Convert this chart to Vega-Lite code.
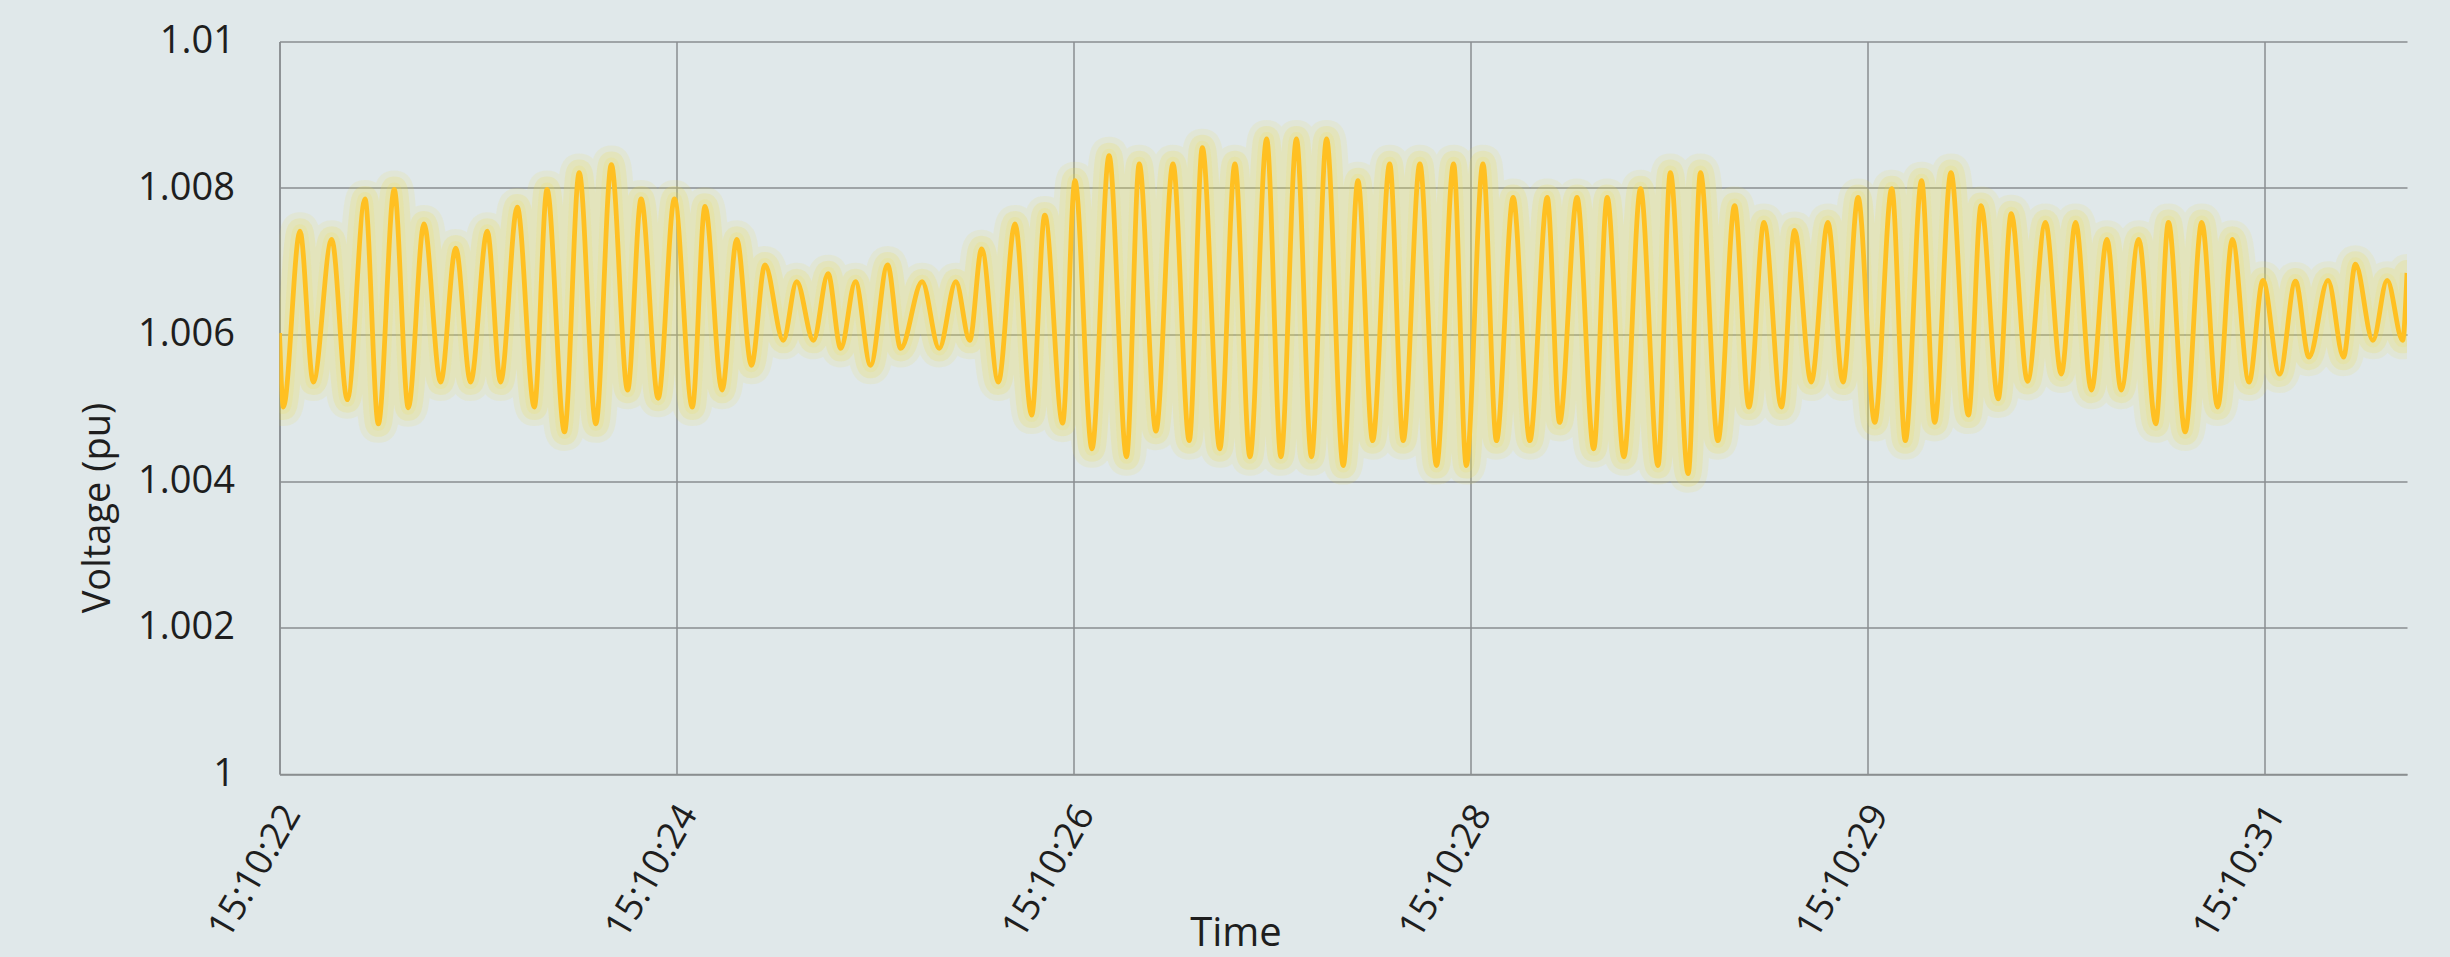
{
  "$schema": "https://vega.github.io/schema/vega-lite/v6.json",
  "autosize": {"type": "none"},
  "width": 2127.5,
  "height": 732.5,
  "padding": {"left": 279.5, "top": 41.5, "right": 43, "bottom": 183},
  "background": "#e0e8ea",
  "data": {"values": [
    {"sample": 0, "v": 1.00602}, {"sample": 0.97, "v": 1.00501}, {"sample": 5.16, "v": 1.00741}, {"sample": 8.52, "v": 1.00535},
    {"sample": 13.14, "v": 1.0073}, {"sample": 17.09, "v": 1.00511}, {"sample": 21.54, "v": 1.00785}, {"sample": 24.9, "v": 1.00478},
    {"sample": 28.9, "v": 1.00798}, {"sample": 32.45, "v": 1.005}, {"sample": 36.4, "v": 1.00751}, {"sample": 40.6, "v": 1.00535},
    {"sample": 44.4, "v": 1.00718}, {"sample": 48.15, "v": 1.00535}, {"sample": 52.35, "v": 1.00741}, {"sample": 55.7, "v": 1.00535},
    {"sample": 59.9, "v": 1.00774}, {"sample": 64.2, "v": 1.00501}, {"sample": 67.4, "v": 1.00798}, {"sample": 71.8, "v": 1.00467},
    {"sample": 75.5, "v": 1.00821}, {"sample": 79.7, "v": 1.00478}, {"sample": 83.6, "v": 1.00832}, {"sample": 87.7, "v": 1.00524},
    {"sample": 91.1, "v": 1.00785}, {"sample": 95.4, "v": 1.00513}, {"sample": 99.5, "v": 1.00785}, {"sample": 104.0, "v": 1.00501},
    {"sample": 107.2, "v": 1.00775}, {"sample": 111.5, "v": 1.00524}, {"sample": 115.2, "v": 1.0073}, {"sample": 118.9, "v": 1.00558},
    {"sample": 122.3, "v": 1.00695}, {"sample": 126.9, "v": 1.00592}, {"sample": 130.3, "v": 1.00672}, {"sample": 134.5, "v": 1.00592},
    {"sample": 138.2, "v": 1.00683}, {"sample": 141.4, "v": 1.00581}, {"sample": 145.1, "v": 1.00672}, {"sample": 148.9, "v": 1.00558},
    {"sample": 153.2, "v": 1.00695}, {"sample": 156.5, "v": 1.00581}, {"sample": 161.9, "v": 1.00672}, {"sample": 166.2, "v": 1.00581},
    {"sample": 170.4, "v": 1.00672}, {"sample": 173.9, "v": 1.00592}, {"sample": 176.9, "v": 1.00717}, {"sample": 181.1, "v": 1.00535},
    {"sample": 185.3, "v": 1.00751}, {"sample": 189.5, "v": 1.0049}, {"sample": 192.8, "v": 1.00763}, {"sample": 197.3, "v": 1.00479},
    {"sample": 200.4, "v": 1.0081}, {"sample": 204.7, "v": 1.00444}, {"sample": 209.0, "v": 1.00844}, {"sample": 213.4, "v": 1.00433},
    {"sample": 216.6, "v": 1.00833}, {"sample": 220.8, "v": 1.00468}, {"sample": 225.1, "v": 1.00833}, {"sample": 229.2, "v": 1.00455},
    {"sample": 232.5, "v": 1.00855}, {"sample": 236.9, "v": 1.00444}, {"sample": 240.7, "v": 1.00833}, {"sample": 244.5, "v": 1.00433},
    {"sample": 248.7, "v": 1.00867}, {"sample": 252.3, "v": 1.00433}, {"sample": 256.2, "v": 1.00867}, {"sample": 260.0, "v": 1.00433},
    {"sample": 263.8, "v": 1.00867}, {"sample": 268.0, "v": 1.00421}, {"sample": 271.7, "v": 1.0081}, {"sample": 275.4, "v": 1.00455},
    {"sample": 279.7, "v": 1.00833}, {"sample": 283.1, "v": 1.00455}, {"sample": 287.3, "v": 1.00833}, {"sample": 291.5, "v": 1.00421},
    {"sample": 295.8, "v": 1.00833}, {"sample": 299.0, "v": 1.00421}, {"sample": 303.2, "v": 1.00833}, {"sample": 306.6, "v": 1.00455},
    {"sample": 310.8, "v": 1.00787}, {"sample": 315.0, "v": 1.00455}, {"sample": 319.4, "v": 1.00787}, {"sample": 322.5, "v": 1.0048},
    {"sample": 326.9, "v": 1.00787}, {"sample": 331.1, "v": 1.00444}, {"sample": 334.5, "v": 1.00787}, {"sample": 338.7, "v": 1.00433},
    {"sample": 342.9, "v": 1.00799}, {"sample": 347.3, "v": 1.00421}, {"sample": 350.4, "v": 1.00821}, {"sample": 354.9, "v": 1.0041},
    {"sample": 358.0, "v": 1.00821}, {"sample": 362.4, "v": 1.00455}, {"sample": 366.6, "v": 1.00776}, {"sample": 370.2, "v": 1.00501},
    {"sample": 374.0, "v": 1.00753}, {"sample": 378.4, "v": 1.00501}, {"sample": 381.7, "v": 1.00742}, {"sample": 385.9, "v": 1.00535},
    {"sample": 390.1, "v": 1.00753}, {"sample": 393.9, "v": 1.00535}, {"sample": 397.7, "v": 1.00787}, {"sample": 401.9, "v": 1.0048},
    {"sample": 406.2, "v": 1.00799}, {"sample": 409.6, "v": 1.00455}, {"sample": 413.7, "v": 1.0081}, {"sample": 417.0, "v": 1.0048},
    {"sample": 421.1, "v": 1.00821}, {"sample": 425.5, "v": 1.0049}, {"sample": 428.7, "v": 1.00776}, {"sample": 433.0, "v": 1.00512},
    {"sample": 436.3, "v": 1.00765}, {"sample": 440.4, "v": 1.00536}, {"sample": 444.9, "v": 1.00753}, {"sample": 448.9, "v": 1.00546},
    {"sample": 452.5, "v": 1.00753}, {"sample": 456.5, "v": 1.00524}, {"sample": 460.4, "v": 1.0073}, {"sample": 464.0, "v": 1.00524},
    {"sample": 468.4, "v": 1.0073}, {"sample": 472.7, "v": 1.00478}, {"sample": 475.9, "v": 1.00753}, {"sample": 480.1, "v": 1.00467},
    {"sample": 484.3, "v": 1.00753}, {"sample": 488.3, "v": 1.00501}, {"sample": 492.0, "v": 1.0073}, {"sample": 496.2, "v": 1.00535},
    {"sample": 499.7, "v": 1.00674}, {"sample": 503.9, "v": 1.00546}, {"sample": 507.9, "v": 1.00673}, {"sample": 511.3, "v": 1.00569},
    {"sample": 516.1, "v": 1.00674}, {"sample": 520.0, "v": 1.00569}, {"sample": 523.0, "v": 1.00696}, {"sample": 527.4, "v": 1.00592},
    {"sample": 531.0, "v": 1.00674}, {"sample": 534.9, "v": 1.00592}, {"sample": 536, "v": 1.00684}
  ]},
  "encoding": {
    "x": {
      "field": "sample", "type": "quantitative",
      "scale": {"domain": [0, 536], "nice": false, "zero": false},
      "axis": {
        "values": [0, 100, 200, 300, 400, 500],
        "labelExpr": "datum.value == 0 ? '15:10:22' : datum.value == 100 ? '15:10:24' : datum.value == 200 ? '15:10:26' : datum.value == 300 ? '15:10:28' : datum.value == 400 ? '15:10:29' : '15:10:31'",
        "labelAngle": -60, "labelAlign": "right", "labelBaseline": "middle",
        "labelPadding": 34, "labelOffset": 12, "labelFontSize": 37, "labelOverlap": false, "labelFlush": false, "labelBound": false,
        "title": "Time", "titleFontSize": 40, "titleX": 956, "titleY": 171,
        "titleAlign": "center", "titleBaseline": "alphabetic"
      }
    },
    "y": {
      "field": "v", "type": "quantitative",
      "scale": {"domain": [1.0, 1.01], "nice": false, "zero": false},
      "axis": {
        "values": [1.0, 1.002, 1.004, 1.006, 1.008, 1.01],
        "format": ".3~f",
        "labelPadding": 45, "labelFontSize": 38,
        "title": "Voltage (pu)", "titleFontSize": 38, "titleX": -181, "titleY": 466,
        "titleAngle": -90, "titleAlign": "center", "titleBaseline": "middle"
      }
    }
  },
  "layer": [
    {"mark": {"type": "line", "interpolate": "monotone", "color": "#f0e048", "strokeWidth": 38, "opacity": 0.12, "strokeJoin": "round", "strokeCap": "round", "clip": true}},
    {"mark": {"type": "line", "interpolate": "monotone", "color": "#f0e048", "strokeWidth": 26, "opacity": 0.18, "strokeJoin": "round", "strokeCap": "round", "clip": true}},
    {"mark": {"type": "line", "interpolate": "monotone", "color": "#f0e048", "strokeWidth": 14, "opacity": 0.14, "strokeJoin": "round", "clip": true}},
    {"mark": {"type": "line", "interpolate": "monotone", "color": "#ffc022", "strokeWidth": 4.8, "strokeJoin": "round", "clip": true}}
  ],
  "config": {
    "view": {"stroke": null},
    "font": "Open Sans",
    "axis": {
      "grid": true, "gridColor": "#8a8e90", "gridWidth": 1.5,
      "domain": true, "domainColor": "#8a8e90", "domainWidth": 1.5,
      "ticks": false,
      "labelColor": "#1e1e1e", "titleColor": "#1e1e1e", "titleFontWeight": "normal",
      "labelFont": "Open Sans", "titleFont": "Open Sans"
    }
  }
}
